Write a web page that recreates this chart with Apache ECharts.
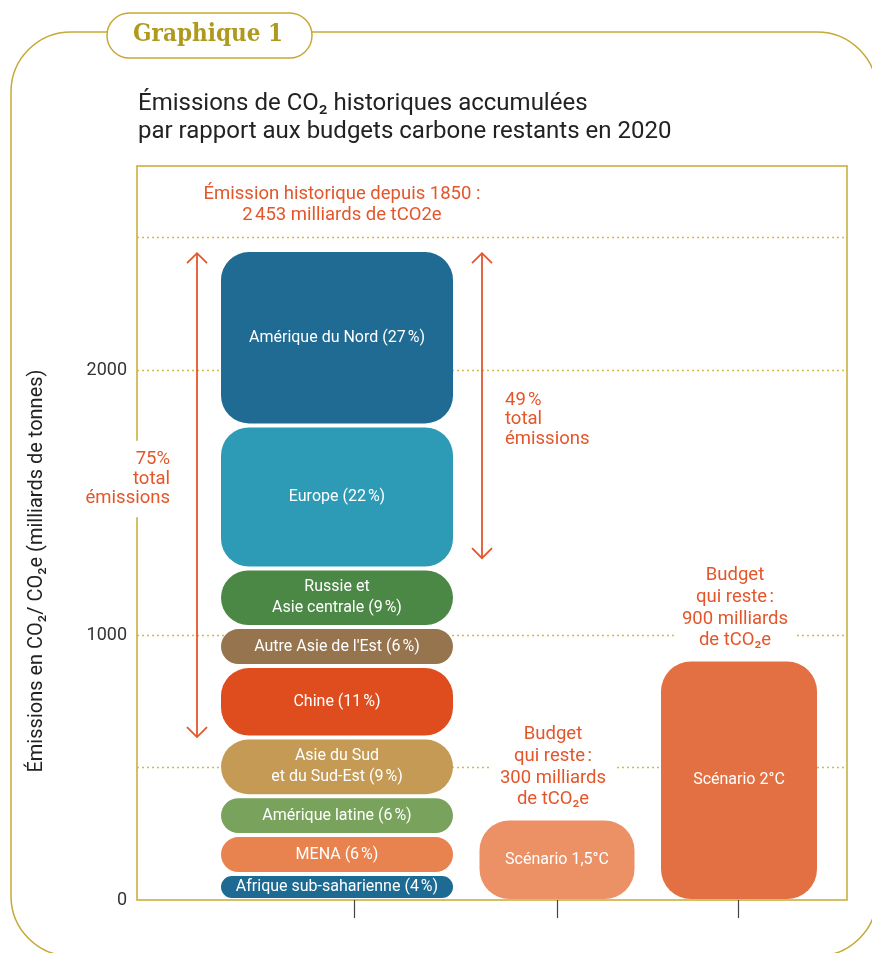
<!DOCTYPE html>
<html>
<head>
<meta charset="utf-8">
<script src="https://cdn.jsdelivr.net/npm/echarts@6/dist/echarts.min.js"></script>
<style>
  html, body { margin: 0; padding: 0; background: #fff; }
  #chart { width: 872px; height: 953px; }
</style>
</head>
<body>
<div id="chart"></div>
<script>
// données (milliards de tCO2e), du bas vers le haut
const regions = [
  'Afrique sub-saharienne (4\u202F%)',
  'MENA (6\u202F%)',
  'Amérique latine (6\u202F%)',
  'Asie du Sud\net du Sud-Est (9\u202F%)',
  'Chine (11\u202F%)',
  "Autre Asie de l'Est (6\u202F%)",
  'Russie et\nAsie centrale (9\u202F%)',
  'Europe (22\u202F%)',
  'Amérique du Nord (27\u202F%)'
]
const regionValues = [98, 147, 147, 221, 270, 147, 221, 540, 662]
const scenarios = ['Scénario 1,5°C', 'Scénario 2°C']
const scenarioValues = [300, 900]
const budgetLabels = [
  'Budget\nqui reste\u202F:\n300 milliards\nde tCO₂e',
  'Budget\nqui reste\u202F:\n900 milliards\nde tCO₂e'
]
const totalLabel = 'Émission historique depuis 1850 :\n2\u202F453 milliards de tCO2e'
// flèches : haut / bas (milliards)
const arrowTop = [2441, 2441]
const arrowBottom = [615, 1290]
const arrowLabels = ['75%\ntotal\némissions', '49\u202F%\ntotal\némissions']
const yTicks = [0, 1000, 2000]
const gridValues = [500, 1000, 2000, 2500]

// mise en page (unités de l'axe x = pixels depuis le bord gauche du graphique)
const X_HIST = 200, W_HIST = 232
const X_SCEN = [420, 602], W_SCEN = [155, 156]
const X_ARROW = [60, 345]
const regionColors = ['#1d6a93', '#e8834f', '#79a35c', '#c49a55', '#df4d1f',
  '#96744d', '#4b8745', '#2d9bb6', '#1f6b94']
const scenarioColors = ['#ec9066', '#e37042']
const ORANGE = '#e4562a'
const GOLD = '#c6a935'
const FONT = 'Roboto, "Noto Sans", sans-serif'

// empilement
let acc = 0
const stackData = regionValues.map((v, i) => {
  const d = [acc, acc + v, i]
  acc += v
  return d
})
const total = acc

const mychart = echarts.init(document.getElementById('chart'))

mychart.setOption({
  animation: false,
  title: {
    text: 'Émissions de CO₂ historiques accumulées\npar rapport aux budgets carbone restants en 2020',
    left: 133,
    top: 85,
    textStyle: { fontSize: 24, fontWeight: 'normal', lineHeight: 28, color: '#222', fontFamily: FONT }
  },
  graphic: [
    {
      type: 'rect', z: 0, silent: true,
      shape: { x: 11, y: 32, width: 866, height: 924, r: 60 },
      style: { fill: 'none', stroke: GOLD, lineWidth: 1.5 }
    },
    {
      type: 'rect', z: 1, silent: true,
      shape: { x: 107, y: 13, width: 205, height: 45, r: 22.5 },
      style: { fill: '#fff', stroke: GOLD, lineWidth: 1.5 }
    },
    {
      type: 'text', z: 2, silent: true,
      x: 208, y: 35,
      style: {
        text: 'Graphique 1', fill: '#b09a1e',
        font: '900 24px "DejaVu Serif Condensed", "DejaVu Serif", serif',
        align: 'center', verticalAlign: 'middle'
      }
    }
  ],
  grid: {
    left: 137, right: 25, top: 166, bottom: 53,
    show: true, borderColor: GOLD, borderWidth: 1.5
  },
  xAxis: {
    type: 'value', min: 0, max: 710,
    axisLine: { show: false },
    axisLabel: { show: false },
    splitLine: { show: false },
    axisTick: {
      show: true, length: 18, customValues: [217, 420, 601],
      lineStyle: { color: '#444', width: 1.2 }
    }
  },
  yAxis: {
    type: 'value', min: 0, max: 2770, interval: 500,
    name: 'Émissions en CO₂/ CO₂e (milliards de tonnes)',
    nameLocation: 'middle', nameGap: 90, nameRotate: 90,
    nameTextStyle: { fontSize: 20, color: '#222', fontFamily: FONT, padding: [0, 76, 0, 0] },
    axisLine: { show: false },
    axisTick: { show: false },
    axisLabel: {
      margin: 10, fontSize: 18, color: '#333', fontFamily: FONT,
      formatter: v => (yTicks.indexOf(v) >= 0 ? String(v) : '')
    },
    splitLine: {
      show: true, showMinLine: false, showMaxLine: false,
      lineStyle: {
        color: [500, 1000, 1500, 2000, 2500].map(v => (gridValues.indexOf(v) >= 0 ? '#d4b84a' : 'rgba(0,0,0,0)')),
        type: [2, 3], width: 1.3
      }
    }
  },
  series: [
    {
      name: 'régions',
      type: 'custom',
      data: stackData,
      renderItem: (params, api) => {
        const lo = api.coord([X_HIST, api.value(0)])
        const hi = api.coord([X_HIST, api.value(1)])
        const i = api.value(2)
        const y = hi[1] + 2
        const h = lo[1] - hi[1] - 4
        return {
          type: 'rect',
          shape: { x: lo[0] - W_HIST / 2, y: y, width: W_HIST, height: h, r: Math.min(28, h / 2) },
          style: { fill: regionColors[i] },
          textContent: {
            style: { text: regions[i], fill: '#fff', font: '16px ' + FONT, align: 'center', lineHeight: 21 }
          },
          textConfig: { position: 'inside' }
        }
      }
    },
    {
      name: 'total',
      type: 'custom',
      data: [total],
      renderItem: (params, api) => {
        const p = api.coord([X_HIST, api.value(0)])
        return {
          type: 'text',
          x: p[0] + 5, y: p[1] - 45,
          style: {
            text: totalLabel, fill: ORANGE, font: '18.5px ' + FONT,
            align: 'center', verticalAlign: 'middle', lineHeight: 21
          }
        }
      }
    },
    {
      name: 'scénarios',
      type: 'custom',
      data: scenarioValues.map((v, i) => [v, i]),
      renderItem: (params, api) => {
        const i = api.value(1)
        const lo = api.coord([X_SCEN[i], 0])
        const hi = api.coord([X_SCEN[i], api.value(0)])
        const h = lo[1] - hi[1] - 1
        return {
          type: 'group',
          children: [
            {
              type: 'rect',
              shape: { x: lo[0] - W_SCEN[i] / 2, y: hi[1], width: W_SCEN[i], height: h, r: Math.min(30, h / 2) },
              style: { fill: scenarioColors[i] },
              textContent: {
                style: { text: scenarios[i], fill: '#fff', font: '16px ' + FONT, align: 'center' }
              },
              textConfig: { position: 'inside' }
            },
            {
              type: 'text',
              x: lo[0] - 4, y: hi[1] - 8,
              style: {
                text: budgetLabels[i], fill: ORANGE, font: '18.5px ' + FONT,
                align: 'center', verticalAlign: 'bottom', lineHeight: 21.7,
                backgroundColor: '#fff', padding: [2, 8, 2, 8]
              }
            }
          ]
        }
      }
    },
    {
      name: 'flèches',
      type: 'custom',
      data: arrowTop.map((t, i) => [t, arrowBottom[i], i]),
      renderItem: (params, api) => {
        const i = api.value(2)
        const a = api.coord([X_ARROW[i], api.value(0)])
        const b = api.coord([X_ARROW[i], api.value(1)])
        const x = a[0]
        const mid = (a[1] + b[1]) / 2
        const ls = { stroke: ORANGE, lineWidth: 1.8, fill: 'none' }
        const left = i === 0
        return {
          type: 'group',
          children: [
            { type: 'line', shape: { x1: x, y1: a[1], x2: x, y2: b[1] }, style: ls },
            { type: 'polyline', shape: { points: [[x - 10, a[1] + 10], [x, a[1]], [x + 10, a[1] + 10]] }, style: ls },
            { type: 'polyline', shape: { points: [[x - 10, b[1] - 10], [x, b[1]], [x + 10, b[1] - 10]] }, style: ls },
            {
              type: 'text',
              x: left ? x - 23 : x + 19,
              y: left ? mid - 16 : mid + 14,
              style: {
                text: arrowLabels[i], fill: ORANGE, font: '18.5px ' + FONT,
                align: left ? 'right' : 'left', verticalAlign: 'middle', lineHeight: 19.5,
                backgroundColor: '#fff', padding: [8, 4, 10, 4]
              }
            }
          ]
        }
      }
    }
  ]
})
</script>
</body>
</html>
